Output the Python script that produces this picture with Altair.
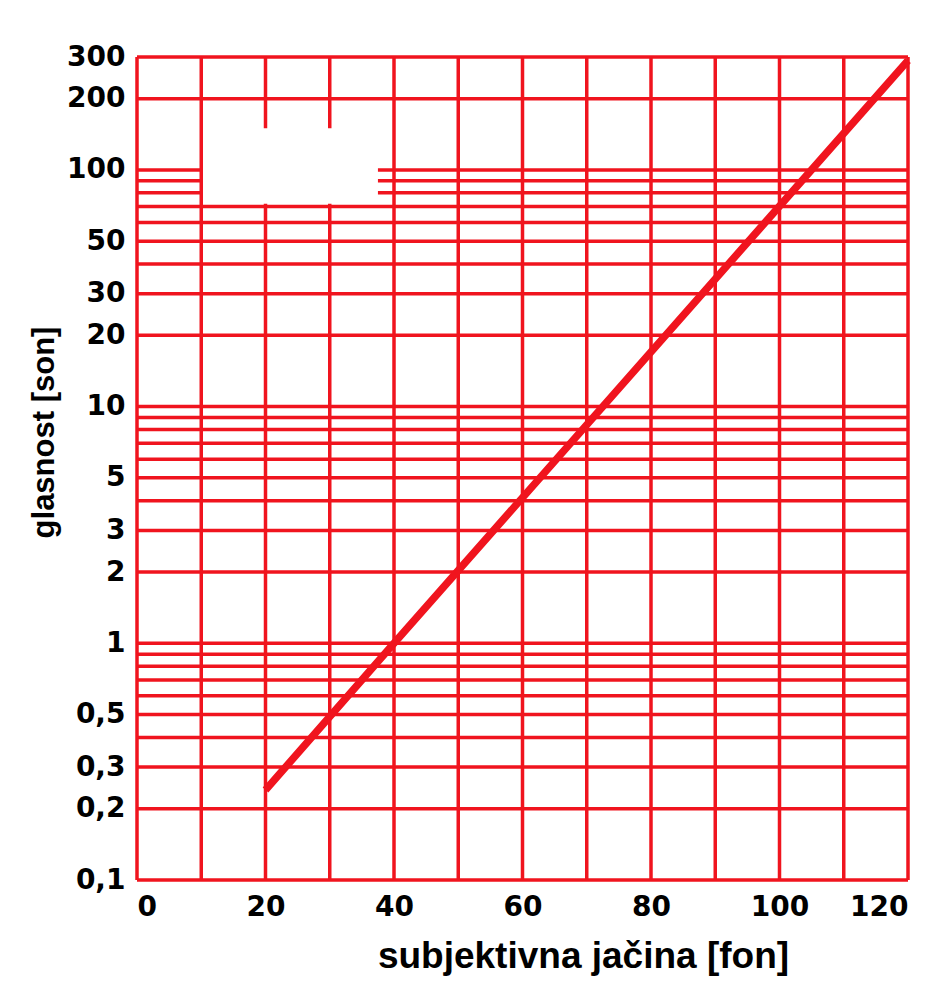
import altair as alt
import pandas as pd

# Loudness (son) against loudness level (phon)
phon = [20, 40, 120]
son = [0.24, 1.0, 290]

# Log-paper grid
grid_y = [0.1, 0.2, 0.3, 0.4, 0.5, 0.6, 0.7, 0.8, 0.9,
          1, 2, 3, 4, 5, 6, 7, 8, 9,
          10, 20, 30, 40, 50, 60, 70, 80, 90,
          100, 200, 300]
grid_x = [0, 10, 20, 30, 40, 50, 60, 70, 80, 90, 100, 110, 120]

# Blank patch in the sheet (lines interrupted there)
cut_y_lines = [80, 90, 100]
cut_y_span = (10, 37.5)
cut_x_lines = [20, 30]
cut_x_span = (72, 150)

x_ticks = [0, 20, 40, 60, 80, 100, 120]
y_ticks = [0.1, 0.2, 0.3, 0.5, 1, 2, 3, 5, 10, 20, 30, 50, 100, 200, 300]

RED = "#f0141e"
X_MIN, X_MAX = 0, 120
Y_MIN, Y_MAX = 0.1, 300

h_rows = []
for v in grid_y:
    if v in cut_y_lines:
        h_rows.append({"y": v, "x0": X_MIN, "x1": cut_y_span[0]})
        h_rows.append({"y": v, "x0": cut_y_span[1], "x1": X_MAX})
    else:
        h_rows.append({"y": v, "x0": X_MIN, "x1": X_MAX})

v_rows = []
for v in grid_x:
    if v in cut_x_lines:
        v_rows.append({"x": v, "y0": Y_MIN, "y1": cut_x_span[0]})
        v_rows.append({"x": v, "y0": cut_x_span[1], "y1": Y_MAX})
    else:
        v_rows.append({"x": v, "y0": Y_MIN, "y1": Y_MAX})

h_df = pd.DataFrame(h_rows)
v_df = pd.DataFrame(v_rows)
line_df = pd.DataFrame({"fon": phon, "son": son})

x_scale = alt.Scale(domain=[X_MIN, X_MAX], nice=False, zero=False)
y_scale = alt.Scale(type="log", domain=[Y_MIN, Y_MAX], nice=False)

x_axis = alt.Axis(
    values=x_ticks, title="subjektivna jačina [fon]",
    domain=False, ticks=False, grid=False,
    labelFont="DejaVu Sans", labelFontWeight="bold", labelFontSize=28,
    labelColor="black", labelPadding=13,
    titleFont="Liberation Sans", titleFontWeight="bold", titleFontSize=37,
    titleColor="black", titleX=446, titleY=87, titleAlign="center",
    titleBaseline="alphabetic",
)
y_axis = alt.Axis(
    values=y_ticks, title="glasnost [son]", format="~g",
    labelExpr="replace(datum.label, '.', ',')",
    domain=False, ticks=False, grid=False,
    labelFont="DejaVu Sans", labelFontWeight="bold", labelFontSize=28,
    labelColor="black", labelPadding=12, labelBaseline="middle",
    titleFont="Liberation Sans", titleFontWeight="bold", titleFontSize=31,
    titleColor="black", titleX=-84, titleY=375, titleAngle=270,
    titleAlign="center", titleBaseline="alphabetic",
)

h_grid = alt.Chart(h_df).mark_rule(color=RED, strokeWidth=3.5).encode(
    x=alt.X("x0:Q", scale=x_scale, axis=x_axis),
    x2="x1:Q",
    y=alt.Y("y:Q", scale=y_scale, axis=y_axis),
)
v_grid = alt.Chart(v_df).mark_rule(color=RED, strokeWidth=3.5).encode(
    x=alt.X("x:Q", scale=x_scale),
    y=alt.Y("y0:Q", scale=y_scale),
    y2="y1:Q",
)
curve = alt.Chart(line_df).mark_line(color=RED, strokeWidth=7.5, strokeCap="butt").encode(
    x=alt.X("fon:Q", scale=x_scale),
    y=alt.Y("son:Q", scale=y_scale),
)

chart = alt.layer(h_grid, v_grid, curve).properties(
    width=771, height=823,
    autosize=alt.AutoSizeParams(type="none"),
    padding={"left": 137, "top": 57, "right": 43, "bottom": 120},
    background="white",
).configure_view(stroke=None)

chart.save("out.html", embed_options={"renderer": "svg", "actions": False})
